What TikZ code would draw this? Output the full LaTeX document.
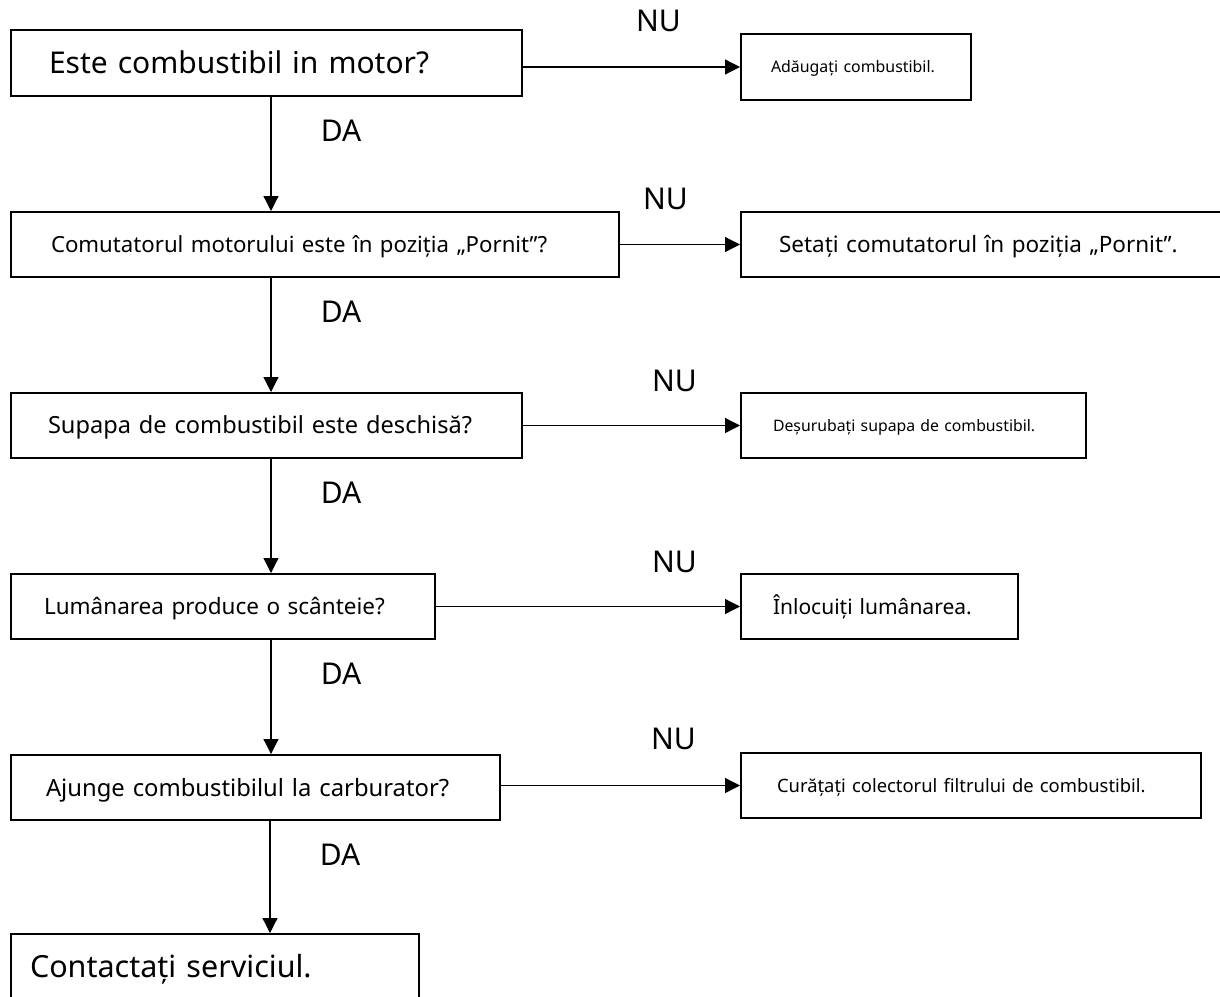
\documentclass[tikz,border=0pt]{standalone}
\usepackage{fontspec}
\setmainfont{Noto Sans}
\usetikzlibrary{arrows.meta,positioning}

\tikzset{
  box/.style={draw, line width=2pt, anchor=north west, align=left, inner ysep=0pt, text depth=0pt},
  fs/.style={font=\fontsize{#1}{#1}\selectfont, text height=0.714*#1pt},
  lbl/.style={fs=30, inner sep=0pt, text depth=0pt},
  arr/.style={-{Triangle[length=15pt,width=15pt]}, line width=1.2pt},
}

\begin{document}
\begin{tikzpicture}[x=1pt, y=-1pt]
    \useasboundingbox (0,0) rectangle (1220,996);

    \node[box, fs=30, inner xsep=38pt, text width=435pt, minimum height=66pt] (q1) at (10,29) {Este combustibil in motor?};
    \node[box, fs=22.2, inner xsep=40pt, text width=528pt, minimum height=65pt] (q2) at (10,211) {Comutatorul motorului este în poziția „Pornit”?};
    \node[box, fs=23.6, inner xsep=37pt, text width=437pt, minimum height=65pt] (q3) at (10,392) {Supapa de combustibil este deschisă?};
    \node[box, fs=22.5, inner xsep=33pt, text width=358pt, minimum height=65pt] (q4) at (10,573) {Lumânarea produce o scânteie?};
    \node[box, fs=23.8, inner xsep=35pt, text width=419pt, minimum height=65pt] (q5) at (10,754) {Ajunge combustibilul la carburator?};
    \node[box, fs=30.5, inner xsep=19pt, text width=370pt, minimum height=66pt] (end) at (10,933) {Contactați serviciul.};

    \node[box, fs=15.9, inner xsep=30pt, text width=170pt, minimum height=66pt] (a1) at (740,33) {Adăugați combustibil.};
    \node[box, fs=22.5, inner xsep=38pt, text width=409pt, minimum height=65pt] (a2) at (740,211) {Setați comutatorul în poziția „Pornit”.};
    \node[box, fs=15.8, inner xsep=32pt, text width=281pt, minimum height=65pt] (a3) at (740,392) {Deșurubați supapa de combustibil.};
    \node[box, fs=21, inner xsep=32pt, text width=213pt, minimum height=65pt] (a4) at (740,573) {Înlocuiți lumânarea.};
    \node[box, fs=18.4, inner xsep=36pt, text width=388pt, minimum height=65pt] (a5) at (740,752) {Curățați colectorul filtrului de combustibil.};

    \node[lbl, above left=1pt and 59pt of a1.north west] (nu1) {NU};
    \node[lbl, above left=1pt and 52pt of a2.north west] (nu2) {NU};
    \node[lbl, above left=0pt and 43pt of a3.north west] (nu3) {NU};
    \node[lbl, above left=0pt and 43pt of a4.north west] (nu4) {NU};
    \node[lbl, above left=2pt and 44pt of a5.north west] (nu5) {NU};

    \draw[arr] (q1.east |- a1.west) -- (a1.west);
    \draw[arr] (q2.east |- a2.west) -- (a2.west);
    \draw[arr] (q3.east |- a3.west) -- (a3.west);
    \draw[arr] (q4.east |- a4.west) -- (a4.west);
    \draw[arr] (q5.east |- a5.west) -- (a5.west);

    \draw[arr] ([xshift=261pt]q1.south west) -- node[lbl, pos=0.3, xshift=70pt] {DA} ([xshift=261pt]q2.north west);
    \draw[arr] ([xshift=261pt]q2.south west) -- node[lbl, pos=0.3, xshift=70pt] {DA} ([xshift=261pt]q3.north west);
    \draw[arr] ([xshift=261pt]q3.south west) -- node[lbl, pos=0.3, xshift=70pt] {DA} ([xshift=261pt]q4.north west);
    \draw[arr] ([xshift=261pt]q4.south west) -- node[lbl, pos=0.3, xshift=70pt] {DA} ([xshift=261pt]q5.north west);
    \draw[arr] ([xshift=260pt]q5.south west) -- node[lbl, pos=0.3, xshift=70pt] {DA} ([xshift=260pt]end.north west);
  \end{tikzpicture}
\end{document}
